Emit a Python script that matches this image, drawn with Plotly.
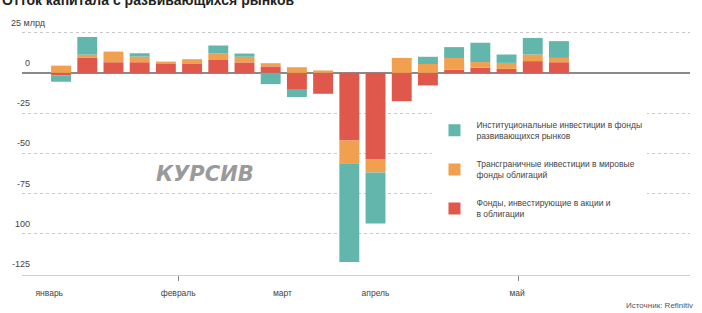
import plotly.graph_objects as go

weeks = list(range(20))
red_vals = [-1.5, 9.3, 6.6, 6.6, 5.5, 5.5, 8.0, 6.5, 4.0, -10.5, -12.5, -42.0, -53.5, -17.6, -7.8, 2.0, 3.2, 2.5, 7.3, 6.6]
orange_vals = [4.5, 2.0, 6.6, 3.5, 1.5, 3.0, 4.0, 3.5, 2.0, 3.5, 1.5, -14.5, -8.3, 9.3, 5.5, 7.2, 3.5, 3.7, 4.1, 2.7]
blue_vals = [-4.0, 11.0, 0.0, 2.1, 0.0, 0.0, 5.0, 2.0, -7.0, -4.5, -0.5, -61.0, -31.7, 0.0, 4.5, 6.8, 12.0, 5.2, 10.3, 10.4]

series_names = [
    "Фонды, инвестирующие в акции и<br>в облигации",
    "Трансграничные инвестиции в мировые<br>фонды облигаций",
    "Институциональные инвестиции в фонды<br>развивающихся рынков",
]
colors = ["#e0584b", "#f0a04f", "#63b6ab"]
legend_ranks = [3, 2, 1]

month_labels = ["январь", "февраль", "март", "апрель", "май"]
month_pos = [-0.45, 4.47, 8.45, 12.0, 17.4]
tick_pos = [4.47, 17.44]

y_tickvals = [-125, -100, -75, -50, -25, 0, 25]
y_ticktext = ["-125", "100", "-75", "-50", "-25", "0", "25 млрд"]

fig = go.Figure()
for name, vals, col, rk, grp in zip(series_names, [red_vals, orange_vals, blue_vals], colors, legend_ranks, ["a", "b", "c"]):
    fig.add_trace(go.Bar(x=weeks, y=vals, name=name, marker=dict(color=col, line=dict(width=0)),
                         legendrank=rk, legendgroup=grp))

# helper invisible trace for secondary x axis (tick marks only)
fig.add_trace(go.Scatter(x=[weeks[0]], y=[0], xaxis="x2", mode="markers",
                         marker=dict(opacity=0), showlegend=False, hoverinfo="skip"))

FONT = "Liberation Sans, Arial, sans-serif"
XR = [-1.49, 24.0]

annotations = []
for v, t in zip(y_tickvals, y_ticktext):
    if v == 25:
        annotations.append(dict(text=t, xref="paper", yref="y", x=-0.019, y=v, xanchor="left",
                                yanchor="middle", yshift=10, showarrow=False,
                                font=dict(size=9, color="#444")))
    else:
        annotations.append(dict(text=t, xref="paper", yref="y", x=0.015, y=v, xanchor="right",
                                yanchor="middle", yshift=10, showarrow=False,
                                font=dict(size=9, color="#444")))

annotations += [
    dict(text="<b>Отток капитала с развивающихся рынков</b>", xref="paper", yref="paper",
         x=-0.033, y=1.086, xanchor="left", yanchor="bottom", showarrow=False,
         font=dict(size=14, color="#222", family=FONT)),
    dict(text="КУРСИВ", xref="paper", yref="paper", x=0.274, y=0.414,
         xanchor="center", yanchor="middle", showarrow=False,
         font=dict(size=21, color="#9a9a9a", family="DejaVu Sans", style="italic", weight="bold")),
    dict(text="Источник: Refinitiv", xref="paper", yref="paper", x=1.008, y=-0.123,
         xanchor="right", yanchor="middle", showarrow=False,
         font=dict(size=8, color="#555")),
]

fig.update_layout(
    width=702, height=313,
    margin=dict(l=22, r=12, t=31, b=38, autoexpand=False),
    paper_bgcolor="white", plot_bgcolor="white",
    barmode="relative", bargap=0.24,
    font=dict(family=FONT, size=9, color="#444"),
    showlegend=True,
    legend=dict(x=0.6145, y=0.665, xanchor="left", yanchor="top",
                bgcolor="white", traceorder="grouped", tracegroupgap=14,
                font=dict(size=8.5, color="#444"), itemwidth=34),
    xaxis=dict(range=XR, tickvals=month_pos, ticktext=month_labels,
               ticks="", showgrid=False, zeroline=False, showline=True, automargin=False,
               linecolor="#d0d0d0", linewidth=1, tickfont=dict(size=8.5, color="#444"),
               ticklabelstandoff=10),
    xaxis2=dict(range=XR, overlaying="x", side="bottom", anchor="y",
                tickvals=tick_pos, showticklabels=False, ticks="outside", automargin=False,
                ticklen=5, tickcolor="#888", showgrid=False, zeroline=False, showline=False),
    yaxis=dict(range=[-125.5, 26], tickvals=y_tickvals, showticklabels=False, automargin=False,
               showgrid=True, gridcolor="#c8c8c8",
               griddash="dot", gridwidth=1, zeroline=True, zerolinecolor="#8a8a8a",
               zerolinewidth=1.5, ticks=""),
    annotations=annotations,
)

fig.write_html("out.html", config={"displayModeBar": False},
               post_script="document.body.style.margin='0';")
